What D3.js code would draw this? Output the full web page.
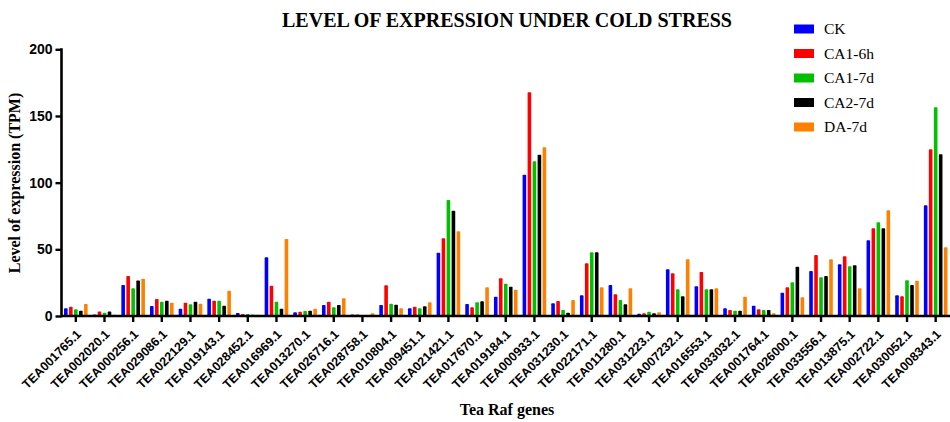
<!DOCTYPE html>
<html>
<head>
<meta charset="utf-8">
<script src="https://cdn.jsdelivr.net/npm/d3@7"></script>
<style>
  html, body { margin: 0; padding: 0; background: #fff; }
  svg { display: block; }
</style>
</head>
<body>
<svg id="chart" width="950" height="422"></svg>
<script>
const genes = ["TEA001765.1","TEA002020.1","TEA000256.1","TEA029086.1","TEA022129.1","TEA019143.1","TEA028452.1","TEA016969.1","TEA013270.1","TEA026716.1","TEA028758.1","TEA010804.1","TEA009451.1","TEA021421.1","TEA017670.1","TEA019184.1","TEA000933.1","TEA031230.1","TEA022171.1","TEA011280.1","TEA031223.1","TEA007232.1","TEA016553.1","TEA033032.1","TEA001764.1","TEA026000.1","TEA033556.1","TEA013875.1","TEA002722.1","TEA030052.1","TEA008343.1"];
const seriesNames = ["CK","CA1-6h","CA1-7d","CA2-7d","DA-7d"];
const seriesColors = ["#0000FF","#FF0000","#00C000","#000000","#FF8000"];
const CK     = [5.75,1.2,23.25,7.5,5.5,13,2.25,44,2.75,8.25,1.2,8.25,5.75,47.5,9,14.5,106,9.5,15.5,23.25,1.75,35,22.25,5.75,7.75,17.5,33.75,38.75,56.75,15.5,83];
const CA1_6h = [7,3.3,30,12.75,10,11.5,1.5,22.75,3.25,10.75,1.2,23,7,58.25,6.5,28.25,167.75,11.25,39.5,16.25,2,32,33,4.5,5,21.5,45.75,44.75,65.75,14.75,125];
const CA1_7d = [5,2.5,20.75,10.75,8.75,11.5,1.5,10.75,3.75,6.5,0.8,9.25,5.75,87,10.25,24.25,116,4.5,47.75,12,3.25,20,20,4,4.5,25.25,29,37.25,70.25,26.75,156.5];
const CA2_7d = [4,3.3,26.7,11.5,10.75,7.75,1,5.5,4,8.25,0.8,8.5,7.25,79,11,22,121,2.5,47.75,8.75,2,14.75,20,4,4.5,37,30,38,65.75,23.25,121.25];
const DA_7d  = [9,1,28,10,9.25,19,1,57.75,5.5,13.25,2,5.75,10.25,63.5,21.5,19.75,126.5,12,21.5,20.75,2.75,42.5,20.75,14.5,2,14,42.5,20.75,79.25,26.5,51.5];
const yTicks = [0,50,100,150,200];
const seriesValues = [CK, CA1_6h, CA1_7d, CA2_7d, DA_7d];

const svg = d3.select("#chart");
const x0 = 61.5, x1 = 950, yBase = 316, yTop = 49.3;

const x = d3.scaleBand().domain(genes).range([x0, x1]).paddingInner(0).paddingOuter(0);
const xs = d3.scaleBand().domain(seriesNames).range([-12.5, 12.5]);
const y = d3.scaleLinear().domain([0, 200]).range([yBase, yTop]);

// bars
const data = [];
genes.forEach((g, i) => seriesNames.forEach((s, j) => data.push({g, s, j, v: seriesValues[j][i]})));
const bw = 3.6;
svg.append("g").selectAll("rect").data(data).join("rect")
  .attr("x", d => x(d.g) + x.bandwidth()/2 + xs(d.s) + (xs.bandwidth()-bw)/2)
  .attr("y", d => y(d.v))
  .attr("width", bw)
  .attr("height", d => yBase - y(d.v))
  .attr("rx", 0.8)
  .attr("fill", d => seriesColors[d.j]);

// y axis
const yAxis = svg.append("g").attr("transform", `translate(${x0},0)`)
  .call(d3.axisLeft(y).tickValues(yTicks).tickSize(6).tickPadding(3).tickSizeOuter(0));
yAxis.select(".domain").attr("stroke-width", 2.6).attr("d", `M0,${yBase+1.3}V${yTop-1}`);
yAxis.selectAll(".tick line").attr("stroke-width", 2.4);
yAxis.selectAll(".tick text").attr("font-family", "Liberation Sans, Arial, sans-serif")
  .attr("font-weight", "bold").attr("font-size", "14px").attr("fill", "#000");

// x axis
const xAxis = svg.append("g").attr("transform", `translate(0,${yBase})`)
  .call(d3.axisBottom(x).tickSize(6).tickSizeOuter(0));
xAxis.select(".domain").attr("stroke-width", 2.6).attr("d", `M${x0},0H${x1}`);
xAxis.selectAll(".tick line").attr("stroke-width", 2.4);
xAxis.selectAll(".tick text")
  .attr("font-family", "Liberation Sans, Arial, sans-serif")
  .attr("font-weight", "bold").attr("font-size", "12.5px").attr("fill", "#000")
  .attr("text-anchor", "end")
  .attr("dy", null).attr("y", null)
  .attr("transform", "translate(6,19) rotate(-45)");

// title
svg.append("text").attr("x", 507).attr("y", 26.5).attr("text-anchor", "middle")
  .attr("font-family", "Liberation Serif, Times New Roman, serif")
  .attr("font-weight", "bold").attr("font-size", "20px")
  .text("LEVEL OF EXPRESSION UNDER COLD STRESS");

// axis titles
svg.append("text").attr("transform", "translate(20,183) rotate(-90)").attr("text-anchor", "middle")
  .attr("font-family", "Liberation Serif, Times New Roman, serif")
  .attr("font-weight", "bold").attr("font-size", "16px")
  .text("Level of expression (TPM)");
svg.append("text").attr("x", 507).attr("y", 415).attr("text-anchor", "middle")
  .attr("font-family", "Liberation Serif, Times New Roman, serif")
  .attr("font-weight", "bold").attr("font-size", "16px")
  .text("Tea Raf genes");

// legend
const leg = svg.append("g");
seriesNames.forEach((s, j) => {
  const cy = 29 + j * 24.5;
  leg.append("rect").attr("x", 794).attr("y", cy - 4.5).attr("width", 20).attr("height", 9)
    .attr("fill", seriesColors[j]);
  leg.append("text").attr("x", 824).attr("y", cy + 5)
    .attr("font-family", "Liberation Serif, Times New Roman, serif")
    .attr("font-size", "15.5px").text(s);
});
</script>
</body>
</html>
